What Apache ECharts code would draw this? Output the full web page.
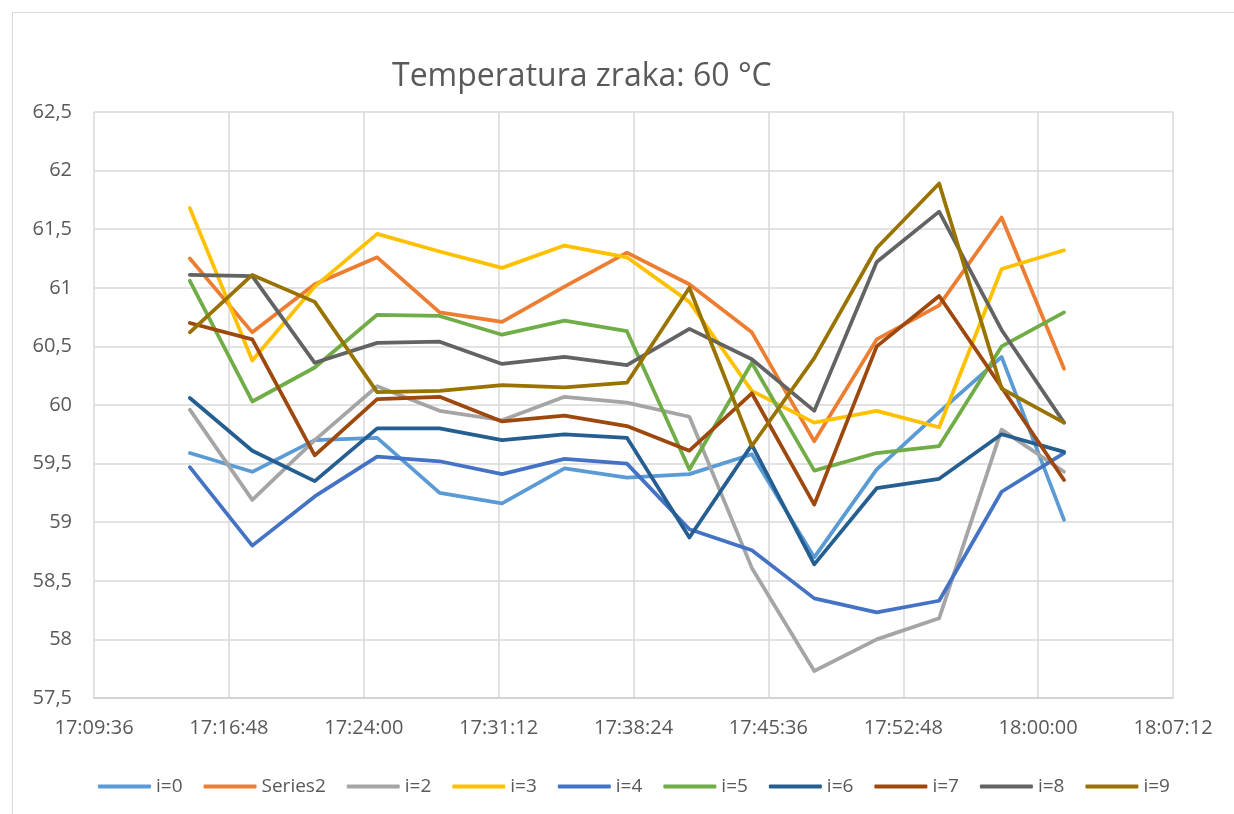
<!DOCTYPE html>
<html>
<head>
<meta charset="utf-8">
<script src="https://cdn.jsdelivr.net/npm/echarts@6/dist/echarts.min.js"></script>
<style>
  html, body { margin: 0; padding: 0; background: #fff; }
  #frame {
    position: absolute; left: 12px; top: 12px;
    width: 1240px; height: 820px;
    border: 1.5px solid #d9d9d9;
  }
  #chart { position: absolute; left: 0; top: 0; width: 1234px; height: 814px; }
</style>
</head>
<body>
<div id="frame"></div>
<div id="chart"></div>
<script>
// mjerenja u vremenu
const times = ['17:14:43', '17:18:03', '17:21:23', '17:24:43', '17:28:03', '17:31:23', '17:34:43', '17:38:03',
  '17:41:23', '17:44:43', '17:48:03', '17:51:23', '17:54:43', '17:58:03', '18:01:23']

const i0 = [59.59, 59.43, 59.70, 59.72, 59.25, 59.16, 59.46, 59.38, 59.41, 59.58, 58.70, 59.45, 59.94, 60.41, 59.02]
const series2 = [61.25, 60.62, 61.03, 61.26, 60.79, 60.71, 61.01, 61.30, 61.03, 60.62, 59.69, 60.56, 60.85, 61.60, 60.31]
const i2 = [59.96, 59.19, 59.70, 60.16, 59.95, 59.87, 60.07, 60.02, 59.90, 58.61, 57.73, 58.00, 58.18, 59.79, 59.43]
const i3 = [61.68, 60.38, 61.01, 61.46, 61.31, 61.17, 61.36, 61.26, 60.88, 60.12, 59.85, 59.95, 59.81, 61.16, 61.32]
const i4 = [59.47, 58.80, 59.22, 59.56, 59.52, 59.41, 59.54, 59.50, 58.94, 58.76, 58.35, 58.23, 58.33, 59.26, 59.59]
const i5 = [61.06, 60.03, 60.32, 60.77, 60.76, 60.60, 60.72, 60.63, 59.45, 60.36, 59.44, 59.59, 59.65, 60.50, 60.79]
const i6 = [60.06, 59.61, 59.35, 59.80, 59.80, 59.70, 59.75, 59.72, 58.87, 59.66, 58.64, 59.29, 59.37, 59.75, 59.60]
const i7 = [60.70, 60.56, 59.57, 60.05, 60.07, 59.86, 59.91, 59.82, 59.61, 60.10, 59.15, 60.50, 60.93, 60.15, 59.36]
const i8 = [61.11, 61.10, 60.36, 60.53, 60.54, 60.35, 60.41, 60.34, 60.65, 60.39, 59.95, 61.22, 61.65, 60.64, 59.85]
const i9 = [60.62, 61.11, 60.88, 60.11, 60.12, 60.17, 60.15, 60.19, 61.00, 59.65, 60.40, 61.34, 61.89, 60.14, 59.85]

const seriesNames = ['i=0', 'Series2', 'i=2', 'i=3', 'i=4', 'i=5', 'i=6', 'i=7', 'i=8', 'i=9']
const seriesValues = [i0, series2, i2, i3, i4, i5, i6, i7, i8, i9]
const seriesColors = ['#5B9BD5', '#ED7D31', '#A5A5A5', '#FFC000', '#4472C4', '#70AD47', '#255E91', '#9E480E', '#636363', '#997300']

// osi
const xStart = '17:09:36'
const xEnd = '18:07:12'
const xStep = 432 // 7:12 u sekundama
const yMin = 57.5
const yMax = 62.5
const yStep = 0.5

function toSec(t) {
  const p = t.split(':').map(Number)
  return p[0] * 3600 + p[1] * 60 + p[2]
}
function fmtTime(s) {
  const pad = n => (n < 10 ? '0' : '') + n
  return Math.floor(s / 3600) + ':' + pad(Math.floor(s % 3600 / 60)) + ':' + pad(s % 60)
}

const textColor = '#595959'
const gridColor = '#d9d9d9'
const font = 'Open Sans'

const myChart = echarts.init(document.getElementById('chart'))
myChart.setOption({
  animation: false,
  title: {
    text: 'Temperatura zraka: 60 °C',
    left: 387,
    top: 56,
    textStyle: { color: textColor, fontFamily: font, fontSize: 32, fontWeight: 'normal' }
  },
  legend: {
    left: 93,
    top: 772,
    icon: 'roundRect',
    itemWidth: 53,
    itemHeight: 4,
    itemGap: 21,
    data: seriesNames,
    textStyle: { color: textColor, fontFamily: font, fontSize: 19 }
  },
  grid: { left: 94, right: 61, top: 112, bottom: 116 },
  xAxis: {
    type: 'value',
    min: toSec(xStart),
    max: toSec(xEnd),
    interval: xStep,
    axisTick: { show: false },
    axisLine: { show: true, lineStyle: { color: '#cfcfcf', width: 1.5 } },
    splitLine: { show: true, lineStyle: { color: gridColor, width: 1.5 } },
    axisLabel: {
      margin: 20,
      color: textColor,
      fontFamily: font,
      fontSize: 20,
      formatter: v => fmtTime(v)
    }
  },
  yAxis: {
    type: 'value',
    min: yMin,
    max: yMax,
    interval: yStep,
    axisTick: { show: false },
    axisLine: { show: false },
    splitLine: { show: true, lineStyle: { color: gridColor, width: 1.5 } },
    axisLabel: {
      margin: 22,
      color: textColor,
      fontFamily: font,
      fontSize: 20,
      formatter: v => String(v).replace('.', ',')
    }
  },
  series: seriesNames.map((name, k) => ({
    name: name,
    type: 'line',
    symbol: 'none',
    color: seriesColors[k],
    lineStyle: { width: 3.75, color: seriesColors[k], cap: 'round', join: 'round' },
    data: times.map((t, j) => [toSec(t), seriesValues[k][j]])
  }))
})
</script>
</body>
</html>
